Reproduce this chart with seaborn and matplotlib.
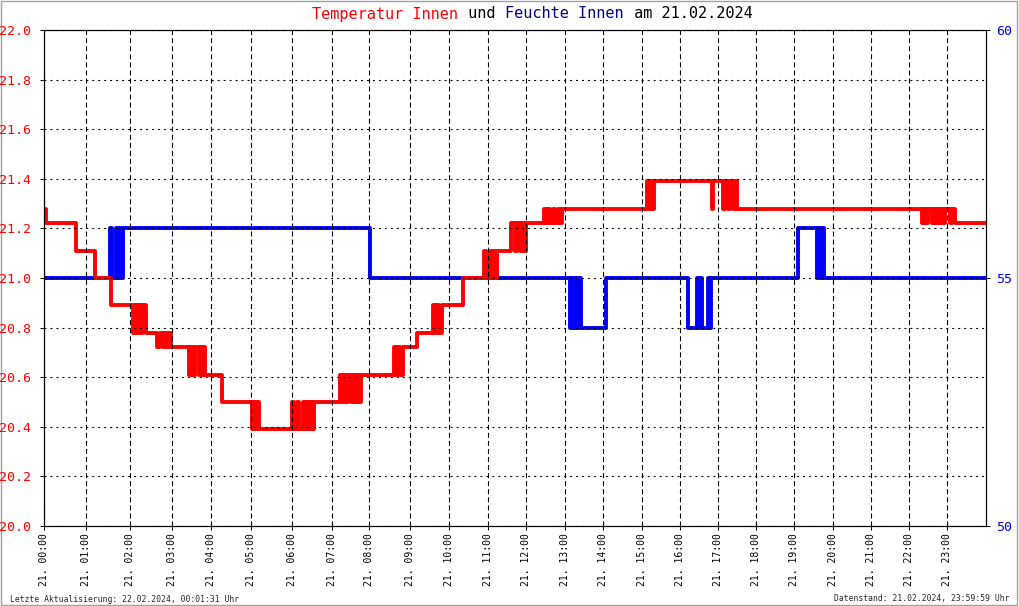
import matplotlib
matplotlib.use("Agg")
import matplotlib.pyplot as plt
from matplotlib.patches import Rectangle
import seaborn as sns
import pandas as pd
import numpy as np

# ------------------ Data ------------------
# x axis is the sample number of the logger (942 samples for the day),
# the hour ticks sit at the first sample of each hour
n_samples = 942
hour_tick_pos = [0, 42, 86, 128, 167, 207, 248, 288, 325, 366, 405, 444,
                 482, 521, 559, 598, 636, 674, 712, 750, 789, 827, 865, 903]
hour_labels = ["21. 00:00", "21. 01:00", "21. 02:00", "21. 03:00", "21. 04:00", "21. 05:00",
               "21. 06:00", "21. 07:00", "21. 08:00", "21. 09:00", "21. 10:00", "21. 11:00",
               "21. 12:00", "21. 13:00", "21. 14:00", "21. 15:00", "21. 16:00", "21. 17:00",
               "21. 18:00", "21. 19:00", "21. 20:00", "21. 21:00", "21. 22:00", "21. 23:00"]

# temperature change points: sample number -> value (°C)
temp_sample = [0, 2, 32, 51, 67,
               89, 91, 93, 95, 97, 99, 102,
               113, 116, 119, 121, 123, 125, 127,
               145, 147, 149, 151, 155, 157, 159, 160, 161,
               178,
               208, 210, 212, 214, 215,
               248, 250, 253, 255, 259, 261, 263, 265, 267, 268, 270,
               296, 298, 300, 302, 304, 307, 309, 311, 313, 315, 317,
               350, 352, 354, 356, 359,
               373,
               389, 391, 393, 395, 398,
               419,
               440, 442, 446, 448, 450, 451, 453,
               467, 471, 473, 476, 478, 480, 482,
               500, 502, 504, 506, 509, 511, 514, 516, 518,
               603, 605, 607, 608, 610,
               668, 669,
               679, 681, 684, 686, 689, 691, 693,
               878, 880, 882, 884, 888, 890, 892, 894, 896, 898, 900, 901, 906, 908, 911,
               942]
temp_values = [21.28, 21.22, 21.11, 21.00, 20.89,
               20.78, 20.89, 20.78, 20.89, 20.78, 20.89, 20.78,
               20.72, 20.78, 20.72, 20.78, 20.72, 20.78, 20.72,
               20.61, 20.72, 20.61, 20.72, 20.61, 20.72, 20.61, 20.72, 20.61,
               20.50,
               20.39, 20.50, 20.39, 20.50, 20.39,
               20.50, 20.39, 20.50, 20.39, 20.50, 20.39, 20.50, 20.39, 20.50, 20.39, 20.50,
               20.61, 20.50, 20.61, 20.50, 20.61, 20.50, 20.61, 20.50, 20.61, 20.50, 20.61,
               20.72, 20.61, 20.72, 20.61, 20.72,
               20.78,
               20.89, 20.78, 20.89, 20.78, 20.89,
               21.00,
               21.11, 21.00, 21.11, 21.00, 21.11, 21.00, 21.11,
               21.22, 21.11, 21.22, 21.11, 21.22, 21.11, 21.22,
               21.28, 21.22, 21.28, 21.22, 21.28, 21.22, 21.28, 21.22, 21.28,
               21.39, 21.28, 21.39, 21.28, 21.39,
               21.28, 21.39,
               21.28, 21.39, 21.28, 21.39, 21.28, 21.39, 21.28,
               21.22, 21.28, 21.22, 21.28, 21.22, 21.28, 21.22, 21.28, 21.22, 21.28, 21.22, 21.28, 21.22, 21.28, 21.22,
               21.22]

# humidity change points: sample number -> value (%)
hum_sample = [0, 66, 68, 72, 74, 76, 77, 79, 326,
              526, 528, 530, 532, 533, 535, 537, 562,
              644, 653, 655, 656, 658, 664, 665, 667,
              754, 773, 775, 777, 778, 780, 942]
hum_values = [55, 56, 55, 56, 55, 56, 55, 56, 55,
              54, 55, 54, 55, 54, 55, 54, 55,
              54, 55, 54, 55, 54, 55, 54, 55,
              56, 55, 56, 55, 56, 55, 55]

temp_ticks = [20.0, 20.2, 20.4, 20.6, 20.8, 21.0, 21.2, 21.4, 21.6, 21.8, 22.0]
hum_ticks = [50, 55, 60]

title_parts = [("Temperatur Innen", "#ff0000"), (" und ", "black"),
               ("Feuchte Innen", "#00008b"), (" am 21.02.2024", "black")]
footer_left = "Letzte Aktualisierung: 22.02.2024, 00:01:31 Uhr"
footer_right = "Datenstand: 21.02.2024, 23:59:59 Uhr"

# ------------------ Style ------------------
sns.set_style("ticks")
plt.rcParams['font.family'] = ['DejaVu Sans Mono']
plt.rcParams['lines.scale_dashes'] = False

W, H = 1020, 606
fig = plt.figure(figsize=(W / 100, H / 100), dpi=100)
ax = fig.add_axes([44 / W, 80 / H, 942 / W, 496 / H])
ax2 = ax.twinx()
ax.set_zorder(2)
ax.patch.set_visible(False)

temp_df = pd.DataFrame({"sample": temp_sample, "temp": temp_values})
hum_df = pd.DataFrame({"sample": hum_sample, "hum": hum_values})

sns.lineplot(data=hum_df, x="sample", y="hum", ax=ax2, color="#0000ff", lw=2.8,
             drawstyle="steps-post", estimator=None, sort=False, legend=False)
sns.lineplot(data=temp_df, x="sample", y="temp", ax=ax, color="#ff0000", lw=2.8,
             drawstyle="steps-post", estimator=None, sort=False, legend=False)

ax.set_xlim(0, n_samples)
ax.set_ylim(20, 22)
ax2.set_ylim(50, 60)
ax.set_xlabel("")
ax.set_ylabel("")
ax2.set_ylabel("")

ax.set_xticks(hour_tick_pos)
ax.set_xticklabels(hour_labels, rotation=90)
ax.set_yticks(temp_ticks)
ax.set_yticklabels([f"{t:.1f}" for t in temp_ticks])
ax2.set_yticks(hum_ticks)
ax2.set_yticklabels([str(t) for t in hum_ticks])

ax.set_axisbelow(False)
ax.grid(axis='x', color='black', lw=0.8, linestyle=(0, (3.6, 2.2)))
ax.grid(axis='y', color='black', lw=0.8, linestyle=(0, (1.4, 2.9)))
ax2.grid(False)

ax.tick_params(axis='y', direction='out', length=3, width=0.72, color='black',
               labelcolor='#ff0000', labelsize=9.6, pad=6)
ax.tick_params(axis='x', direction='inout', length=6, width=0.72, color='black',
               labelcolor='black', labelsize=7, pad=2)
ax2.tick_params(axis='y', direction='out', length=3, width=0.72, color='black',
                labelcolor='#0000ff', labelsize=9.6, pad=4)

for a in (ax, ax2):
    for s in a.spines.values():
        s.set_visible(True)
        s.set_color('black')
        s.set_linewidth(0.8)

# ------------------ Title and footer ------------------
fs = 11
cw = 0.602 * fs * 100 / 72  # monospace advance in pixels
n_chars = sum(len(t) for t, _ in title_parts)
x_px = 533 - n_chars * cw / 2
for text, col in title_parts:
    fig.text(x_px / W, 1 - 14 / H, text, color=col, fontsize=fs, ha='left', va='center')
    x_px += len(text) * cw

fig.text(10 / W, 1 - 599 / H, footer_left, fontsize=5.8, ha='left', va='center')
fig.text(1010 / W, 1 - 599 / H, footer_right, fontsize=5.8, ha='right', va='center')

fig.patches.append(Rectangle((0.5 / W, 1 / H), 1017 / W, 604.5 / H, transform=fig.transFigure,
                             fill=False, edgecolor='#a0a0a0', lw=1))

fig.savefig("out.png", dpi=100)
